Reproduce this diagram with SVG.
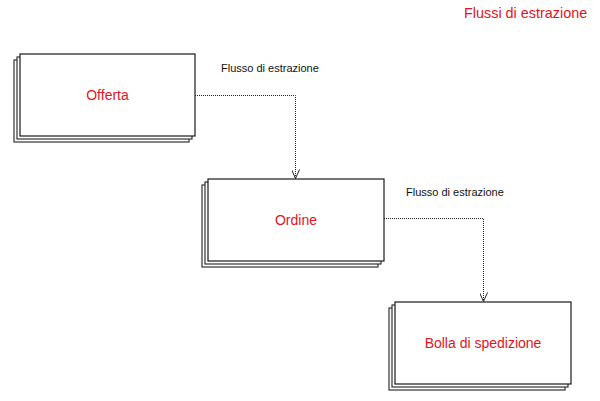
<svg xmlns="http://www.w3.org/2000/svg" width="600" height="401" viewBox="0 0 600 401">
  <style>
    .card { fill: #ffffff; stroke: #1a1a1a; stroke-width: 1.2; }
    .back { fill: #ffffff; stroke: #333333; stroke-width: 1.2; }
    .name { font-family: "Liberation Sans", Arial, sans-serif; font-size: 14px; fill: #e2141c; text-anchor: middle; }
    .flow { font-family: "Liberation Sans", Arial, sans-serif; font-size: 11px; fill: #111111; }
    .title { font-family: "Liberation Sans", Arial, sans-serif; font-size: 14.4px; fill: #e2141c; }
    .link { fill: none; stroke: #222222; stroke-width: 1; stroke-dasharray: 1 1; }
  </style>
  <defs>
    <marker id="open-arrow" markerWidth="12" markerHeight="8" refX="10" refY="4" orient="auto" markerUnits="userSpaceOnUse">
      <path d="M1,0 L10,4 L1,8" fill="none" stroke="#222222" stroke-width="1"/>
    </marker>
  </defs>

  <rect width="600" height="401" fill="#ffffff"/>

  <text class="title" x="464" y="18">Flussi di estrazione</text>

  <g id="node-offerta">
    <rect class="back" x="14" y="60" width="175" height="82"/>
    <rect class="back" x="17" y="57" width="175" height="82"/>
    <rect class="card" x="20" y="54" width="175" height="82"/>
    <text class="name" x="107.5" y="100">Offerta</text>
  </g>

  <g id="node-ordine">
    <rect class="back" x="202" y="185" width="176" height="82"/>
    <rect class="back" x="205" y="182" width="176" height="82"/>
    <rect class="card" x="208" y="179" width="176" height="82"/>
    <text class="name" x="296" y="225">Ordine</text>
  </g>

  <g id="node-bolla">
    <rect class="back" x="389" y="308" width="176" height="82"/>
    <rect class="back" x="392" y="305" width="176" height="82"/>
    <rect class="card" x="395" y="302" width="176" height="82"/>
    <text class="name" x="483" y="348">Bolla di spedizione</text>
  </g>

  <g id="connectors">
    <path class="link" d="M195,95.5 H295.5 V178.5" marker-end="url(#open-arrow)"/>
    <path class="link" d="M384,218.5 H483.5 V301.5" marker-end="url(#open-arrow)"/>
    <text class="flow" x="221" y="72">Flusso di estrazione</text>
    <text class="flow" x="406" y="196">Flusso di estrazione</text>
  </g>
</svg>
